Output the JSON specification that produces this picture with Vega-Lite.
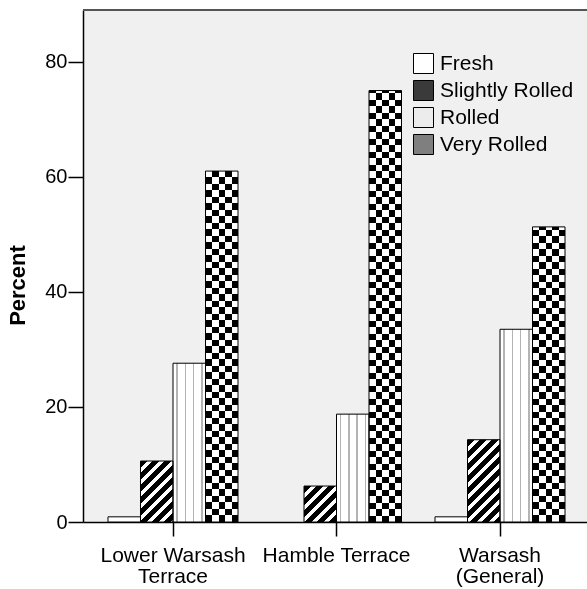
{
"$schema": "https://vega.github.io/schema/vega-lite/v6.json",
"width": 504, "height": 512,
"autosize": {"type": "none"},
"padding": {"left": 83, "top": 10, "right": 0, "bottom": 67},
"background": "#ffffff",
"config": {"font": "Liberation Sans", "view": {"stroke": null, "fill": "#f0f0f0"},
 "axis": {"labelFont": "Liberation Sans", "labelFontSize": 20, "labelColor": "#000", "tickColor": "#000", "domainColor": "#000", "titleColor": "#000", "titleFont": "Liberation Sans", "grid": false}},
"data": {"values": [
 {"site": "Lower Warsash Terrace", "cond": "Fresh", "pct": 0.9},
 {"site": "Lower Warsash Terrace", "cond": "Slightly Rolled", "pct": 10.6},
 {"site": "Lower Warsash Terrace", "cond": "Rolled", "pct": 27.6},
 {"site": "Lower Warsash Terrace", "cond": "Very Rolled", "pct": 61.0},
 {"site": "Hamble Terrace", "cond": "Slightly Rolled", "pct": 6.25},
 {"site": "Hamble Terrace", "cond": "Rolled", "pct": 18.75},
 {"site": "Hamble Terrace", "cond": "Very Rolled", "pct": 75.0},
 {"site": "Warsash (General)", "cond": "Fresh", "pct": 0.9},
 {"site": "Warsash (General)", "cond": "Slightly Rolled", "pct": 14.3},
 {"site": "Warsash (General)", "cond": "Rolled", "pct": 33.5},
 {"site": "Warsash (General)", "cond": "Very Rolled", "pct": 51.3}
]},
"layer": [
 {
  "encoding": {
   "x": {"field": "site", "type": "nominal",
    "scale": {"domain": ["Lower Warsash Terrace", "Hamble Terrace", "Warsash (General)"], "paddingInner": 0.2049, "paddingOuter": 0.1437, "align": 0.532},
    "axis": {"title": null, "labelExpr": "datum.value == 'Lower Warsash Terrace' ? ['Lower Warsash', 'Terrace'] : datum.value == 'Warsash (General)' ? ['Warsash', '(General)'] : datum.value", "tickSize": 14, "labelPadding": 8, "labelFontSize": 21, "labelLineHeight": 21, "labelAngle": 0, "domainWidth": 1.5, "tickWidth": 1.5}},
   "xOffset": {"field": "cond", "type": "nominal", "scale": {"domain": ["Fresh", "Slightly Rolled", "Rolled", "Very Rolled"], "paddingInner": 0, "paddingOuter": 0}},
   "y": {"field": "pct", "type": "quantitative", "scale": {"domain": [0, 89], "nice": false},
    "axis": {"title": "Percent", "values": [0, 20, 40, 60, 80], "tickSize": 15, "labelPadding": 1, "titleFontSize": 22, "titleFontWeight": "bold", "titlePadding": 15, "titleY": 275, "domainWidth": 1.5, "tickWidth": 1.5}}
  },
  "layer": [
   {"mark": {"type": "bar"},
    "encoding": {"fill": {"field": "cond", "type": "nominal",
     "scale": {"domain": ["Fresh", "Slightly Rolled", "Rolled", "Very Rolled"], "range": ["#ffffff", "#3a3a3a", "#ececec", "#7f7f7f"]},
     "legend": {"title": null, "orient": "none", "legendX": 330, "legendY": 43, "symbolType": "square", "symbolSize": 400, "symbolStrokeColor": "#000", "symbolStrokeWidth": 1, "symbolOpacity": 1,
      "labelFont": "Liberation Sans", "labelFontSize": 21, "labelColor": "#000", "labelOffset": 6, "rowPadding": 2, "labelLimit": 300}}}},
   {"transform": [{"filter": "datum.site === 'Lower Warsash Terrace' && datum.cond === 'Slightly Rolled'"}],
    "mark": {"type": "bar", "fill": {"gradient": "linear", "x1": 0, "y1": 0, "x2": 0.8168, "y2": 1.5325, "stops": [
     {"offset": 0, "color": "#000"}, {"offset": 0.06, "color": "#000"}, {"offset": 0.06, "color": "#fff"}, {"offset": 0.1, "color": "#fff"},
     {"offset": 0.1, "color": "#000"}, {"offset": 0.16, "color": "#000"}, {"offset": 0.16, "color": "#fff"}, {"offset": 0.2, "color": "#fff"},
     {"offset": 0.2, "color": "#000"}, {"offset": 0.26, "color": "#000"}, {"offset": 0.26, "color": "#fff"}, {"offset": 0.3, "color": "#fff"},
     {"offset": 0.3, "color": "#000"}, {"offset": 0.36, "color": "#000"}, {"offset": 0.36, "color": "#fff"}, {"offset": 0.4, "color": "#fff"},
     {"offset": 0.4, "color": "#000"}, {"offset": 0.46, "color": "#000"}, {"offset": 0.46, "color": "#fff"}, {"offset": 0.5, "color": "#fff"},
     {"offset": 0.5, "color": "#000"}, {"offset": 0.56, "color": "#000"}, {"offset": 0.56, "color": "#fff"}, {"offset": 0.6, "color": "#fff"},
     {"offset": 0.6, "color": "#000"}, {"offset": 0.66, "color": "#000"}, {"offset": 0.66, "color": "#fff"}, {"offset": 0.7, "color": "#fff"},
     {"offset": 0.7, "color": "#000"}, {"offset": 0.76, "color": "#000"}, {"offset": 0.76, "color": "#fff"}, {"offset": 0.8, "color": "#fff"},
     {"offset": 0.8, "color": "#000"}, {"offset": 1, "color": "#000"}]}}},
   {"transform": [{"filter": "datum.site === 'Hamble Terrace' && datum.cond === 'Slightly Rolled'"}],
    "mark": {"type": "bar", "fill": {"gradient": "linear", "x1": 0, "y1": 0, "x2": 1.66, "y2": 1.8367, "stops": [
     {"offset": 0, "color": "#000"}, {"offset": 0.06, "color": "#000"}, {"offset": 0.06, "color": "#fff"}, {"offset": 0.1, "color": "#fff"},
     {"offset": 0.1, "color": "#000"}, {"offset": 0.16, "color": "#000"}, {"offset": 0.16, "color": "#fff"}, {"offset": 0.2, "color": "#fff"},
     {"offset": 0.2, "color": "#000"}, {"offset": 0.26, "color": "#000"}, {"offset": 0.26, "color": "#fff"}, {"offset": 0.3, "color": "#fff"},
     {"offset": 0.3, "color": "#000"}, {"offset": 0.36, "color": "#000"}, {"offset": 0.36, "color": "#fff"}, {"offset": 0.4, "color": "#fff"},
     {"offset": 0.4, "color": "#000"}, {"offset": 0.46, "color": "#000"}, {"offset": 0.46, "color": "#fff"}, {"offset": 0.5, "color": "#fff"},
     {"offset": 0.5, "color": "#000"}, {"offset": 0.56, "color": "#000"}, {"offset": 0.56, "color": "#fff"}, {"offset": 0.6, "color": "#fff"},
     {"offset": 0.6, "color": "#000"}, {"offset": 1, "color": "#000"}]}}},
   {"transform": [{"filter": "datum.site === 'Warsash (General)' && datum.cond === 'Slightly Rolled'"}],
    "mark": {"type": "bar", "fill": {"gradient": "linear", "x1": 0, "y1": 0, "x2": 0.4984, "y2": 1.2617, "stops": [
     {"offset": 0, "color": "#000"}, {"offset": 0.06, "color": "#000"}, {"offset": 0.06, "color": "#fff"}, {"offset": 0.1, "color": "#fff"},
     {"offset": 0.1, "color": "#000"}, {"offset": 0.16, "color": "#000"}, {"offset": 0.16, "color": "#fff"}, {"offset": 0.2, "color": "#fff"},
     {"offset": 0.2, "color": "#000"}, {"offset": 0.26, "color": "#000"}, {"offset": 0.26, "color": "#fff"}, {"offset": 0.3, "color": "#fff"},
     {"offset": 0.3, "color": "#000"}, {"offset": 0.36, "color": "#000"}, {"offset": 0.36, "color": "#fff"}, {"offset": 0.4, "color": "#fff"},
     {"offset": 0.4, "color": "#000"}, {"offset": 0.46, "color": "#000"}, {"offset": 0.46, "color": "#fff"}, {"offset": 0.5, "color": "#fff"},
     {"offset": 0.5, "color": "#000"}, {"offset": 0.56, "color": "#000"}, {"offset": 0.56, "color": "#fff"}, {"offset": 0.6, "color": "#fff"},
     {"offset": 0.6, "color": "#000"}, {"offset": 0.66, "color": "#000"}, {"offset": 0.66, "color": "#fff"}, {"offset": 0.7, "color": "#fff"},
     {"offset": 0.7, "color": "#000"}, {"offset": 0.76, "color": "#000"}, {"offset": 0.76, "color": "#fff"}, {"offset": 0.8, "color": "#fff"},
     {"offset": 0.8, "color": "#000"}, {"offset": 0.86, "color": "#000"}, {"offset": 0.86, "color": "#fff"}, {"offset": 0.9, "color": "#fff"},
     {"offset": 0.9, "color": "#000"}, {"offset": 0.96, "color": "#000"}, {"offset": 0.96, "color": "#fff"}, {"offset": 1, "color": "#fff"}]}}},
   {"transform": [{"filter": "datum.cond === 'Rolled'"}],
    "mark": {"type": "bar", "fill": {"gradient": "linear", "x1": 0, "y1": 0, "x2": 1, "y2": 0, "stops": [
     {"offset": 0, "color": "#fff"}, {"offset": 0.1, "color": "#fff"}, {"offset": 0.1, "color": "#b4b4b4"}, {"offset": 0.146, "color": "#b4b4b4"}, {"offset": 0.146, "color": "#fff"},
     {"offset": 0.356, "color": "#fff"}, {"offset": 0.356, "color": "#b4b4b4"}, {"offset": 0.402, "color": "#b4b4b4"}, {"offset": 0.402, "color": "#fff"},
     {"offset": 0.614, "color": "#fff"}, {"offset": 0.614, "color": "#b4b4b4"}, {"offset": 0.66, "color": "#b4b4b4"}, {"offset": 0.66, "color": "#fff"},
     {"offset": 0.869, "color": "#fff"}, {"offset": 0.869, "color": "#b4b4b4"}, {"offset": 0.915, "color": "#b4b4b4"}, {"offset": 0.915, "color": "#fff"}, {"offset": 1, "color": "#fff"}]}}},
   {"transform": [{"filter": "datum.cond === 'Very Rolled'"}],
    "mark": {"type": "bar", "fill": {"gradient": "linear", "x1": 0, "y1": 0, "x2": 1, "y2": 0, "stops": [
     {"offset": 0, "color": "#000"}, {"offset": 0.2, "color": "#000"}, {"offset": 0.2, "color": "#fff"}, {"offset": 0.4, "color": "#fff"},
     {"offset": 0.4, "color": "#000"}, {"offset": 0.6, "color": "#000"}, {"offset": 0.6, "color": "#fff"}, {"offset": 0.8, "color": "#fff"},
     {"offset": 0.8, "color": "#000"}, {"offset": 1, "color": "#000"}]}}},
   {"transform": [{"filter": "datum.site === 'Lower Warsash Terrace' && datum.cond === 'Very Rolled'"}],
    "mark": {"type": "bar", "blend": "difference", "fill": {"gradient": "linear", "x1": 0, "y1": 1, "x2": 0, "y2": -0.8523, "stops": [
     {"offset":0,"color":"#000"},{"offset":0.01,"color":"#000"},{"offset":0.01,"color":"#fff"},{"offset":0.02,"color":"#fff"},
     {"offset":0.02,"color":"#000"},{"offset":0.03,"color":"#000"},{"offset":0.03,"color":"#fff"},{"offset":0.04,"color":"#fff"},
     {"offset":0.04,"color":"#000"},{"offset":0.05,"color":"#000"},{"offset":0.05,"color":"#fff"},{"offset":0.06,"color":"#fff"},
     {"offset":0.06,"color":"#000"},{"offset":0.07,"color":"#000"},{"offset":0.07,"color":"#fff"},{"offset":0.08,"color":"#fff"},
     {"offset":0.08,"color":"#000"},{"offset":0.09,"color":"#000"},{"offset":0.09,"color":"#fff"},{"offset":0.1,"color":"#fff"},
     {"offset":0.1,"color":"#000"},{"offset":0.11,"color":"#000"},{"offset":0.11,"color":"#fff"},{"offset":0.12,"color":"#fff"},
     {"offset":0.12,"color":"#000"},{"offset":0.13,"color":"#000"},{"offset":0.13,"color":"#fff"},{"offset":0.14,"color":"#fff"},
     {"offset":0.14,"color":"#000"},{"offset":0.15,"color":"#000"},{"offset":0.15,"color":"#fff"},{"offset":0.16,"color":"#fff"},
     {"offset":0.16,"color":"#000"},{"offset":0.17,"color":"#000"},{"offset":0.17,"color":"#fff"},{"offset":0.18,"color":"#fff"},
     {"offset":0.18,"color":"#000"},{"offset":0.19,"color":"#000"},{"offset":0.19,"color":"#fff"},{"offset":0.2,"color":"#fff"},
     {"offset":0.2,"color":"#000"},{"offset":0.21,"color":"#000"},{"offset":0.21,"color":"#fff"},{"offset":0.22,"color":"#fff"},
     {"offset":0.22,"color":"#000"},{"offset":0.23,"color":"#000"},{"offset":0.23,"color":"#fff"},{"offset":0.24,"color":"#fff"},
     {"offset":0.24,"color":"#000"},{"offset":0.25,"color":"#000"},{"offset":0.25,"color":"#fff"},{"offset":0.26,"color":"#fff"},
     {"offset":0.26,"color":"#000"},{"offset":0.27,"color":"#000"},{"offset":0.27,"color":"#fff"},{"offset":0.28,"color":"#fff"},
     {"offset":0.28,"color":"#000"},{"offset":0.29,"color":"#000"},{"offset":0.29,"color":"#fff"},{"offset":0.3,"color":"#fff"},
     {"offset":0.3,"color":"#000"},{"offset":0.31,"color":"#000"},{"offset":0.31,"color":"#fff"},{"offset":0.32,"color":"#fff"},
     {"offset":0.32,"color":"#000"},{"offset":0.33,"color":"#000"},{"offset":0.33,"color":"#fff"},{"offset":0.34,"color":"#fff"},
     {"offset":0.34,"color":"#000"},{"offset":0.35,"color":"#000"},{"offset":0.35,"color":"#fff"},{"offset":0.36,"color":"#fff"},
     {"offset":0.36,"color":"#000"},{"offset":0.37,"color":"#000"},{"offset":0.37,"color":"#fff"},{"offset":0.38,"color":"#fff"},
     {"offset":0.38,"color":"#000"},{"offset":0.39,"color":"#000"},{"offset":0.39,"color":"#fff"},{"offset":0.4,"color":"#fff"},
     {"offset":0.4,"color":"#000"},{"offset":0.41,"color":"#000"},{"offset":0.41,"color":"#fff"},{"offset":0.42,"color":"#fff"},
     {"offset":0.42,"color":"#000"},{"offset":0.43,"color":"#000"},{"offset":0.43,"color":"#fff"},{"offset":0.44,"color":"#fff"},
     {"offset":0.44,"color":"#000"},{"offset":0.45,"color":"#000"},{"offset":0.45,"color":"#fff"},{"offset":0.46,"color":"#fff"},
     {"offset":0.46,"color":"#000"},{"offset":0.47,"color":"#000"},{"offset":0.47,"color":"#fff"},{"offset":0.48,"color":"#fff"},
     {"offset":0.48,"color":"#000"},{"offset":0.49,"color":"#000"},{"offset":0.49,"color":"#fff"},{"offset":0.5,"color":"#fff"},
     {"offset":0.5,"color":"#000"},{"offset":0.51,"color":"#000"},{"offset":0.51,"color":"#fff"},{"offset":0.52,"color":"#fff"},
     {"offset":0.52,"color":"#000"},{"offset":0.53,"color":"#000"},{"offset":0.53,"color":"#fff"},{"offset":0.54,"color":"#fff"}]}}},
   {"transform": [{"filter": "datum.site === 'Hamble Terrace' && datum.cond === 'Very Rolled'"}],
    "mark": {"type": "bar", "blend": "difference", "fill": {"gradient": "linear", "x1": 0, "y1": 1, "x2": 0, "y2": -0.5065, "stops": [
     {"offset":0,"color":"#000"},{"offset":0.01,"color":"#000"},{"offset":0.01,"color":"#fff"},{"offset":0.02,"color":"#fff"},
     {"offset":0.02,"color":"#000"},{"offset":0.03,"color":"#000"},{"offset":0.03,"color":"#fff"},{"offset":0.04,"color":"#fff"},
     {"offset":0.04,"color":"#000"},{"offset":0.05,"color":"#000"},{"offset":0.05,"color":"#fff"},{"offset":0.06,"color":"#fff"},
     {"offset":0.06,"color":"#000"},{"offset":0.07,"color":"#000"},{"offset":0.07,"color":"#fff"},{"offset":0.08,"color":"#fff"},
     {"offset":0.08,"color":"#000"},{"offset":0.09,"color":"#000"},{"offset":0.09,"color":"#fff"},{"offset":0.1,"color":"#fff"},
     {"offset":0.1,"color":"#000"},{"offset":0.11,"color":"#000"},{"offset":0.11,"color":"#fff"},{"offset":0.12,"color":"#fff"},
     {"offset":0.12,"color":"#000"},{"offset":0.13,"color":"#000"},{"offset":0.13,"color":"#fff"},{"offset":0.14,"color":"#fff"},
     {"offset":0.14,"color":"#000"},{"offset":0.15,"color":"#000"},{"offset":0.15,"color":"#fff"},{"offset":0.16,"color":"#fff"},
     {"offset":0.16,"color":"#000"},{"offset":0.17,"color":"#000"},{"offset":0.17,"color":"#fff"},{"offset":0.18,"color":"#fff"},
     {"offset":0.18,"color":"#000"},{"offset":0.19,"color":"#000"},{"offset":0.19,"color":"#fff"},{"offset":0.2,"color":"#fff"},
     {"offset":0.2,"color":"#000"},{"offset":0.21,"color":"#000"},{"offset":0.21,"color":"#fff"},{"offset":0.22,"color":"#fff"},
     {"offset":0.22,"color":"#000"},{"offset":0.23,"color":"#000"},{"offset":0.23,"color":"#fff"},{"offset":0.24,"color":"#fff"},
     {"offset":0.24,"color":"#000"},{"offset":0.25,"color":"#000"},{"offset":0.25,"color":"#fff"},{"offset":0.26,"color":"#fff"},
     {"offset":0.26,"color":"#000"},{"offset":0.27,"color":"#000"},{"offset":0.27,"color":"#fff"},{"offset":0.28,"color":"#fff"},
     {"offset":0.28,"color":"#000"},{"offset":0.29,"color":"#000"},{"offset":0.29,"color":"#fff"},{"offset":0.3,"color":"#fff"},
     {"offset":0.3,"color":"#000"},{"offset":0.31,"color":"#000"},{"offset":0.31,"color":"#fff"},{"offset":0.32,"color":"#fff"},
     {"offset":0.32,"color":"#000"},{"offset":0.33,"color":"#000"},{"offset":0.33,"color":"#fff"},{"offset":0.34,"color":"#fff"},
     {"offset":0.34,"color":"#000"},{"offset":0.35,"color":"#000"},{"offset":0.35,"color":"#fff"},{"offset":0.36,"color":"#fff"},
     {"offset":0.36,"color":"#000"},{"offset":0.37,"color":"#000"},{"offset":0.37,"color":"#fff"},{"offset":0.38,"color":"#fff"},
     {"offset":0.38,"color":"#000"},{"offset":0.39,"color":"#000"},{"offset":0.39,"color":"#fff"},{"offset":0.4,"color":"#fff"},
     {"offset":0.4,"color":"#000"},{"offset":0.41,"color":"#000"},{"offset":0.41,"color":"#fff"},{"offset":0.42,"color":"#fff"},
     {"offset":0.42,"color":"#000"},{"offset":0.43,"color":"#000"},{"offset":0.43,"color":"#fff"},{"offset":0.44,"color":"#fff"},
     {"offset":0.44,"color":"#000"},{"offset":0.45,"color":"#000"},{"offset":0.45,"color":"#fff"},{"offset":0.46,"color":"#fff"},
     {"offset":0.46,"color":"#000"},{"offset":0.47,"color":"#000"},{"offset":0.47,"color":"#fff"},{"offset":0.48,"color":"#fff"},
     {"offset":0.48,"color":"#000"},{"offset":0.49,"color":"#000"},{"offset":0.49,"color":"#fff"},{"offset":0.5,"color":"#fff"},
     {"offset":0.5,"color":"#000"},{"offset":0.51,"color":"#000"},{"offset":0.51,"color":"#fff"},{"offset":0.52,"color":"#fff"},
     {"offset":0.52,"color":"#000"},{"offset":0.53,"color":"#000"},{"offset":0.53,"color":"#fff"},{"offset":0.54,"color":"#fff"},
     {"offset":0.54,"color":"#000"},{"offset":0.55,"color":"#000"},{"offset":0.55,"color":"#fff"},{"offset":0.56,"color":"#fff"},
     {"offset":0.56,"color":"#000"},{"offset":0.57,"color":"#000"},{"offset":0.57,"color":"#fff"},{"offset":0.58,"color":"#fff"},
     {"offset":0.58,"color":"#000"},{"offset":0.59,"color":"#000"},{"offset":0.59,"color":"#fff"},{"offset":0.6,"color":"#fff"},
     {"offset":0.6,"color":"#000"},{"offset":0.61,"color":"#000"},{"offset":0.61,"color":"#fff"},{"offset":0.62,"color":"#fff"},
     {"offset":0.62,"color":"#000"},{"offset":0.63,"color":"#000"},{"offset":0.63,"color":"#fff"},{"offset":0.64,"color":"#fff"},
     {"offset":0.64,"color":"#000"},{"offset":0.65,"color":"#000"},{"offset":0.65,"color":"#fff"},{"offset":0.66,"color":"#fff"},
     {"offset":0.66,"color":"#000"},{"offset":0.67,"color":"#000"}]}}},
   {"transform": [{"filter": "datum.site === 'Warsash (General)' && datum.cond === 'Very Rolled'"}],
    "mark": {"type": "bar", "blend": "difference", "fill": {"gradient": "linear", "x1": 0, "y1": 1, "x2": 0, "y2": -1.2025, "stops": [
     {"offset":0,"color":"#000"},{"offset":0.01,"color":"#000"},{"offset":0.01,"color":"#fff"},{"offset":0.02,"color":"#fff"},
     {"offset":0.02,"color":"#000"},{"offset":0.03,"color":"#000"},{"offset":0.03,"color":"#fff"},{"offset":0.04,"color":"#fff"},
     {"offset":0.04,"color":"#000"},{"offset":0.05,"color":"#000"},{"offset":0.05,"color":"#fff"},{"offset":0.06,"color":"#fff"},
     {"offset":0.06,"color":"#000"},{"offset":0.07,"color":"#000"},{"offset":0.07,"color":"#fff"},{"offset":0.08,"color":"#fff"},
     {"offset":0.08,"color":"#000"},{"offset":0.09,"color":"#000"},{"offset":0.09,"color":"#fff"},{"offset":0.1,"color":"#fff"},
     {"offset":0.1,"color":"#000"},{"offset":0.11,"color":"#000"},{"offset":0.11,"color":"#fff"},{"offset":0.12,"color":"#fff"},
     {"offset":0.12,"color":"#000"},{"offset":0.13,"color":"#000"},{"offset":0.13,"color":"#fff"},{"offset":0.14,"color":"#fff"},
     {"offset":0.14,"color":"#000"},{"offset":0.15,"color":"#000"},{"offset":0.15,"color":"#fff"},{"offset":0.16,"color":"#fff"},
     {"offset":0.16,"color":"#000"},{"offset":0.17,"color":"#000"},{"offset":0.17,"color":"#fff"},{"offset":0.18,"color":"#fff"},
     {"offset":0.18,"color":"#000"},{"offset":0.19,"color":"#000"},{"offset":0.19,"color":"#fff"},{"offset":0.2,"color":"#fff"},
     {"offset":0.2,"color":"#000"},{"offset":0.21,"color":"#000"},{"offset":0.21,"color":"#fff"},{"offset":0.22,"color":"#fff"},
     {"offset":0.22,"color":"#000"},{"offset":0.23,"color":"#000"},{"offset":0.23,"color":"#fff"},{"offset":0.24,"color":"#fff"},
     {"offset":0.24,"color":"#000"},{"offset":0.25,"color":"#000"},{"offset":0.25,"color":"#fff"},{"offset":0.26,"color":"#fff"},
     {"offset":0.26,"color":"#000"},{"offset":0.27,"color":"#000"},{"offset":0.27,"color":"#fff"},{"offset":0.28,"color":"#fff"},
     {"offset":0.28,"color":"#000"},{"offset":0.29,"color":"#000"},{"offset":0.29,"color":"#fff"},{"offset":0.3,"color":"#fff"},
     {"offset":0.3,"color":"#000"},{"offset":0.31,"color":"#000"},{"offset":0.31,"color":"#fff"},{"offset":0.32,"color":"#fff"},
     {"offset":0.32,"color":"#000"},{"offset":0.33,"color":"#000"},{"offset":0.33,"color":"#fff"},{"offset":0.34,"color":"#fff"},
     {"offset":0.34,"color":"#000"},{"offset":0.35,"color":"#000"},{"offset":0.35,"color":"#fff"},{"offset":0.36,"color":"#fff"},
     {"offset":0.36,"color":"#000"},{"offset":0.37,"color":"#000"},{"offset":0.37,"color":"#fff"},{"offset":0.38,"color":"#fff"},
     {"offset":0.38,"color":"#000"},{"offset":0.39,"color":"#000"},{"offset":0.39,"color":"#fff"},{"offset":0.4,"color":"#fff"},
     {"offset":0.4,"color":"#000"},{"offset":0.41,"color":"#000"},{"offset":0.41,"color":"#fff"},{"offset":0.42,"color":"#fff"},
     {"offset":0.42,"color":"#000"},{"offset":0.43,"color":"#000"},{"offset":0.43,"color":"#fff"},{"offset":0.44,"color":"#fff"},
     {"offset":0.44,"color":"#000"},{"offset":0.45,"color":"#000"},{"offset":0.45,"color":"#fff"},{"offset":0.46,"color":"#fff"}]}}},
   {"mark": {"type": "bar", "fill": "transparent", "stroke": "#000", "strokeWidth": 1}}
  ]
 },
 {"data": {"values": [{}]}, "mark": {"type": "rule", "color": "#555555", "strokeWidth": 2}, "encoding": {"y": {"datum": 89, "type": "quantitative"}}}
]
}
